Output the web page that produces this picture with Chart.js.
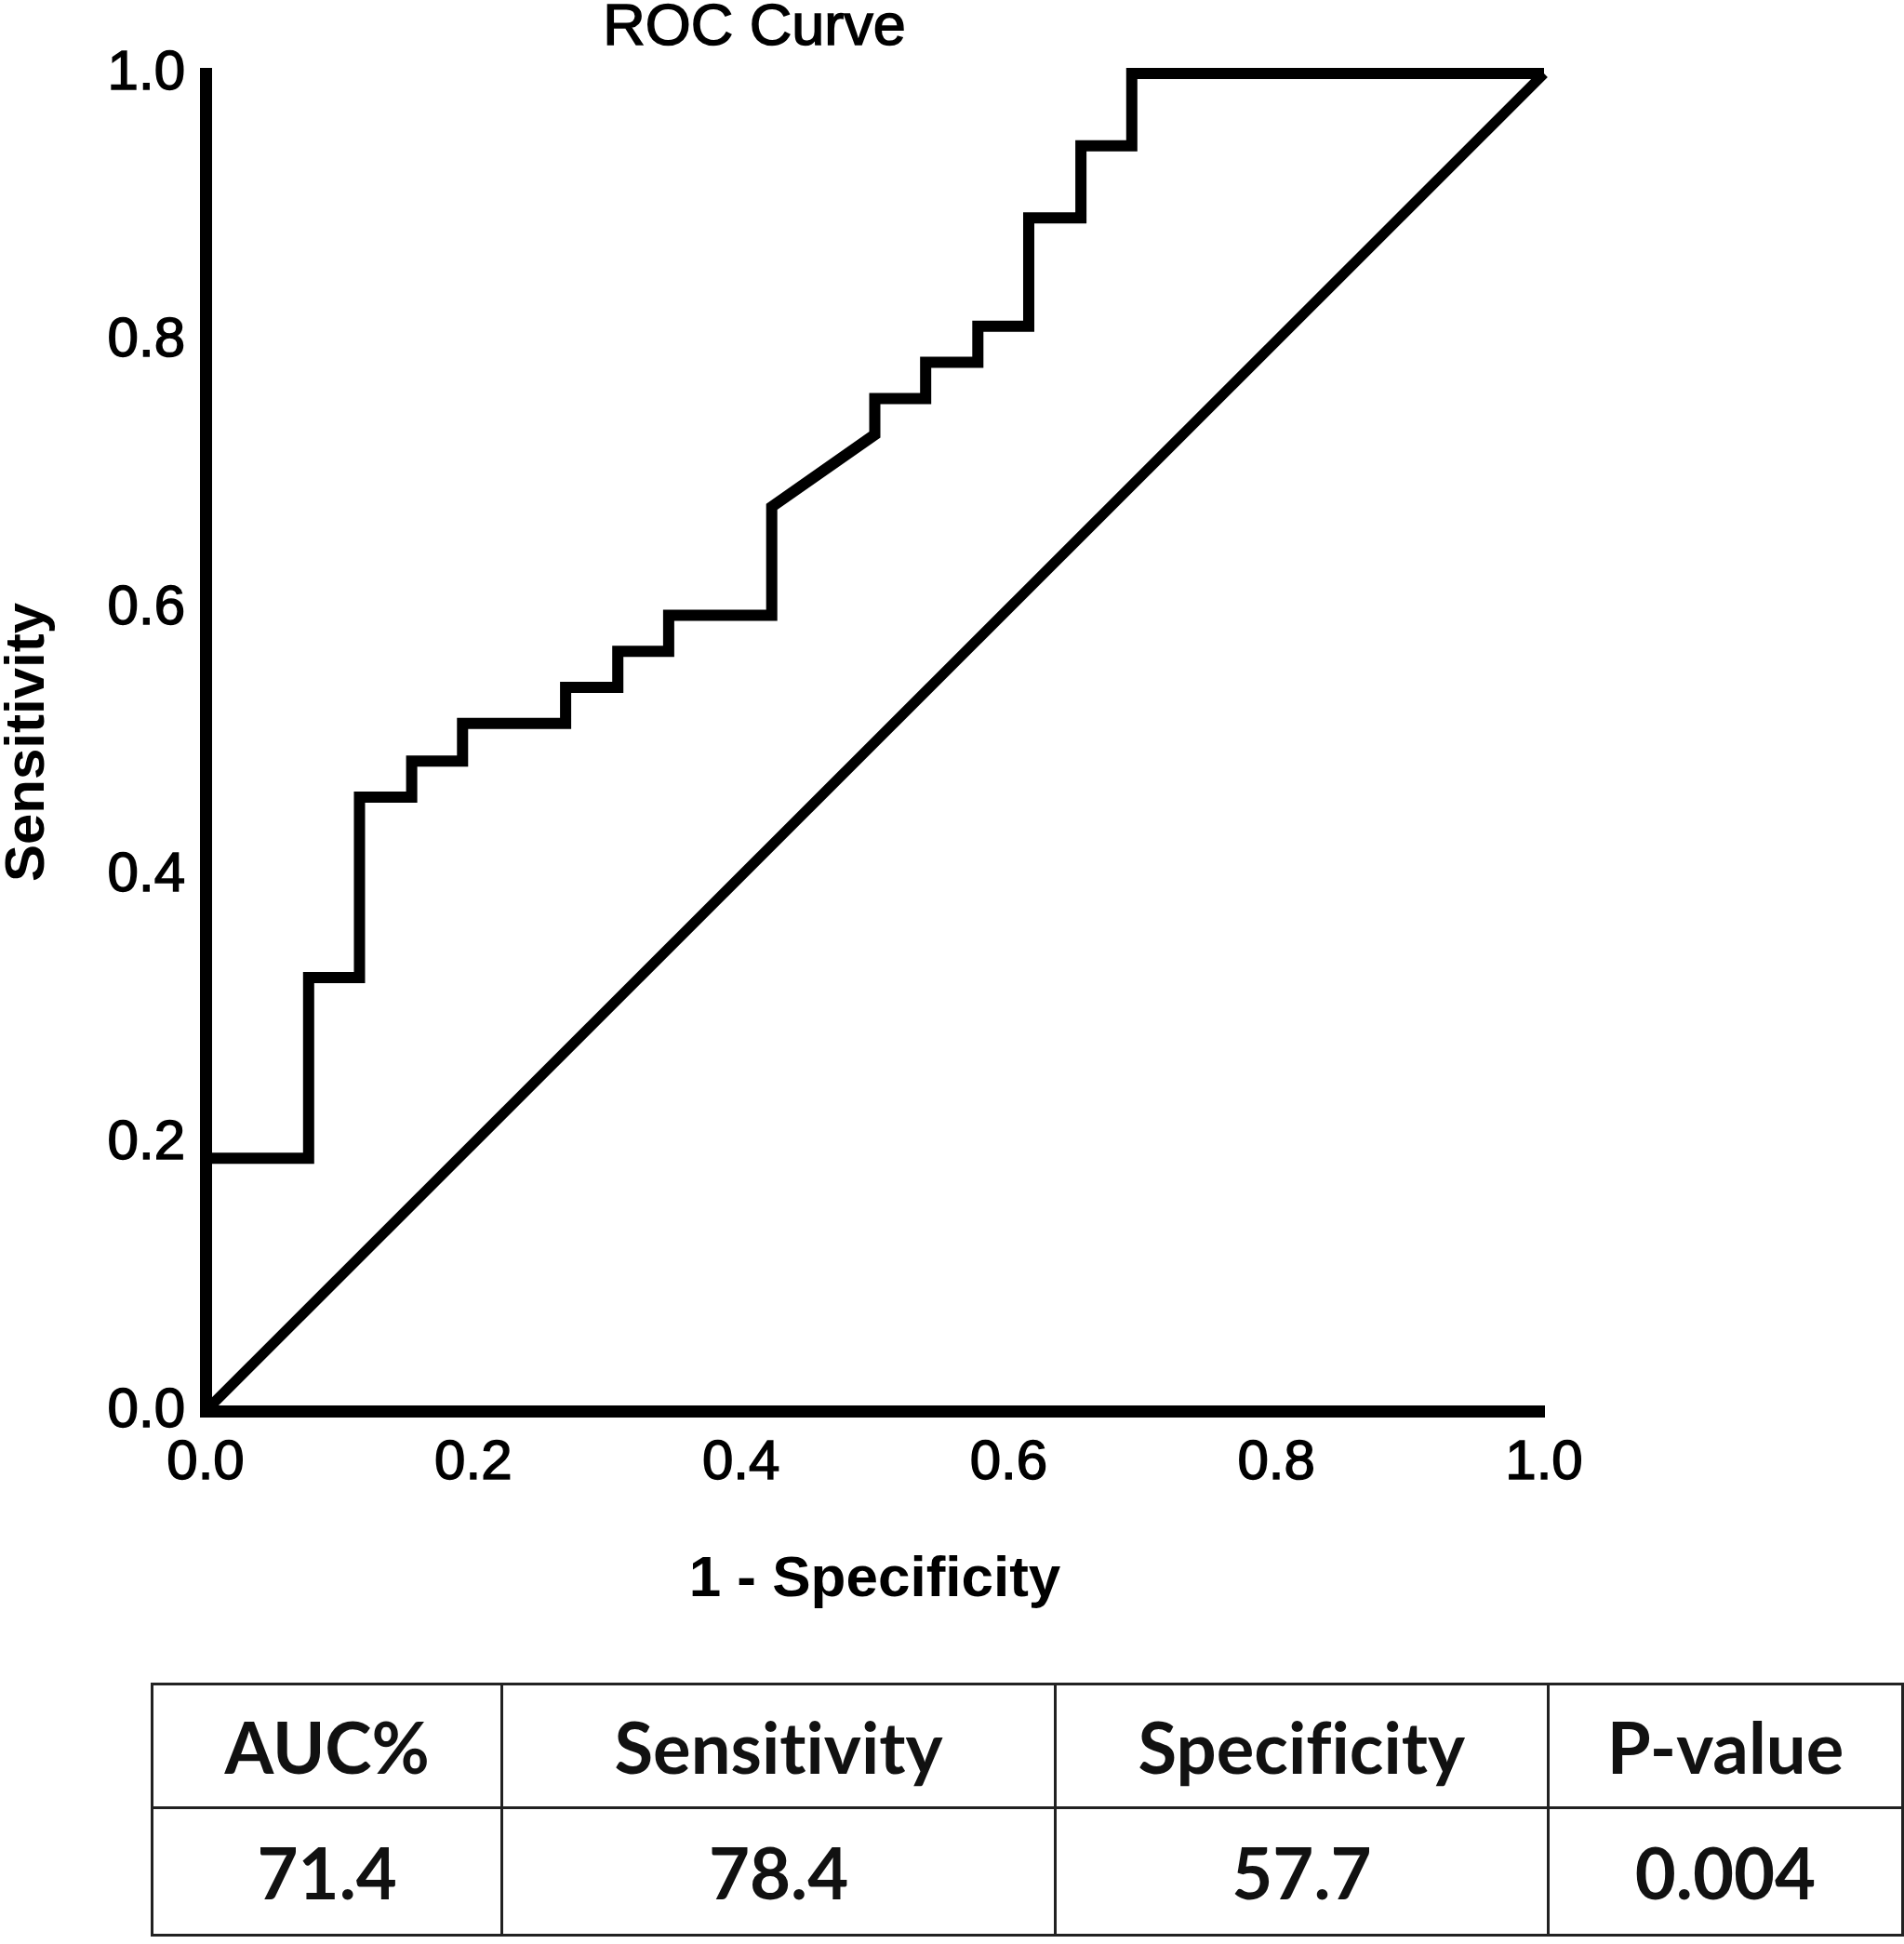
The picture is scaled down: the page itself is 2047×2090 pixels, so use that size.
<!DOCTYPE html>
<html lang="en">
<head>
    <meta charset="UTF-8">
    <title>ROC Curve</title>
    <script src="https://cdn.jsdelivr.net/npm/chart.js"></script>
    <style>
        body { margin: 0; background: #fff; }
        #wrap { position: relative; width: 2047px; height: 2090px; }
        #roc-chart { position: absolute; left: 0; top: 0; }
        #title {
            position: absolute; left: 0; top: -5px; width: 1622px;
            text-align: center; font: 63px/63px "Liberation Sans", Arial, sans-serif; color: #000;
            -webkit-text-stroke: 1.5px #000;
        }
        #stats {
            position: absolute; left: 162px; top: 1809px;
            border-collapse: collapse;
            font-family: Lato, "Open Sans", sans-serif; font-weight: bold; font-size: 76px; color: #111;
            font-variant-ligatures: none;
        }
        #stats td { border: 3px solid #222; text-align: center; padding: 0; }
        #stats tr.head td { height: 130px; }
        #stats tr.vals td { height: 134px; }
    </style>
</head>
<body>
<div id="wrap">
    <canvas id="roc-chart" width="2047" height="1730"></canvas>
    <div id="title">ROC Curve</div>
    <table id="stats">
        <tr class="head"></tr>
        <tr class="vals"></tr>
    </table>
</div>

<script>
    // ROC curve points
    const fpr = [0, 0, 0.077, 0.077, 0.115, 0.115, 0.154, 0.154, 0.192, 0.192, 0.269, 0.269,
        0.308, 0.308, 0.346, 0.346, 0.423, 0.423, 0.5, 0.5, 0.538, 0.538, 0.577, 0.577,
        0.615, 0.615, 0.654, 0.654, 0.692, 0.692, 1.0];
    const tpr = [0, 0.189, 0.189, 0.324, 0.324, 0.459, 0.459, 0.486, 0.486, 0.514, 0.514, 0.541,
        0.541, 0.568, 0.568, 0.595, 0.595, 0.676, 0.730, 0.757, 0.757, 0.784, 0.784, 0.811,
        0.811, 0.892, 0.892, 0.946, 0.946, 1.0, 1.0];
    // reference (chance) line
    const chanceX = [0, 1];
    const chanceY = [0, 1];
    const tickValues = [0, 0.2, 0.4, 0.6, 0.8, 1.0];

    // summary table
    const statNames = ['AUC%', 'Sensitivity', 'Specificity', 'P-value'];
    const statValues = ['71.4', '78.4', '57.7', '0.004'];
    const colWidths = [375, 594, 529, 380];

    const head = document.querySelector('#stats tr.head');
    const vals = document.querySelector('#stats tr.vals');
    statNames.forEach((name, i) => {
        const th = document.createElement('td');
        th.textContent = name;
        th.style.width = colWidths[i] + 'px';
        head.appendChild(th);
        const td = document.createElement('td');
        td.textContent = statValues[i];
        vals.appendChild(td);
    });

    const fontFamily = '"Liberation Sans", Arial, sans-serif';

    let ctx = document.getElementById('roc-chart').getContext('2d');
    let chart = new Chart(ctx, {
        type: 'line',
        data: {
            datasets: [
                {
                    label: 'ROC',
                    data: fpr.map((x, i) => ({x: x, y: tpr[i]})),
                    borderColor: '#000',
                    borderWidth: 12,
                    borderJoinStyle: 'miter',
                    pointRadius: 0,
                    tension: 0,
                    fill: false,
                    clip: false
                },
                {
                    label: 'Chance',
                    data: chanceX.map((x, i) => ({x: x, y: chanceY[i]})),
                    borderColor: '#000',
                    borderWidth: 11,
                    pointRadius: 0,
                    fill: false,
                    clip: false
                }
            ]
        },
        options: {
            responsive: false,
            animation: false,
            devicePixelRatio: 1,
            layout: {
                padding: {top: 79, right: 387, bottom: 0, left: 0}
            },
            plugins: {
                legend: {display: false},
                tooltip: {enabled: false}
            },
            scales: {
                x: {
                    type: 'linear',
                    min: 0,
                    max: 1,
                    afterBuildTicks: (scale) => { scale.ticks = tickValues.map(v => ({value: v})); },
                    afterFit: (scale) => { scale.height = 213; },
                    grid: {display: false, drawTicks: false},
                    border: {display: true, width: 13, color: '#000'},
                    ticks: {
                        padding: 20,
                        color: '#000',
                        textStrokeColor: '#000',
                        textStrokeWidth: 1.5,
                        maxRotation: 0,
                        font: {family: fontFamily, size: 60, lineHeight: 1.2},
                        callback: (v) => Number(v).toFixed(1)
                    },
                    title: {
                        display: true,
                        text: '1 - Specificity',
                        color: '#000',
                        padding: 0,
                        font: {family: fontFamily, size: 62, weight: 'bold', lineHeight: 1}
                    }
                },
                y: {
                    type: 'linear',
                    min: 0,
                    max: 1,
                    afterBuildTicks: (scale) => { scale.ticks = tickValues.map(v => ({value: v})); },
                    afterFit: (scale) => { scale.width = 221; },
                    grid: {display: false, drawTicks: false},
                    border: {display: true, width: 13, color: '#000'},
                    ticks: {
                        padding: 22,
                        color: '#000',
                        textStrokeColor: '#000',
                        textStrokeWidth: 1.5,
                        font: {family: fontFamily, size: 60, lineHeight: 1.2},
                        callback: (v) => Number(v).toFixed(1)
                    },
                    title: {
                        display: true,
                        text: 'Sensitivity',
                        color: '#000',
                        padding: 0,
                        font: {family: fontFamily, size: 60, weight: 'bold', lineHeight: 1}
                    }
                }
            }
        }
    });
</script>
</body>
</html>
